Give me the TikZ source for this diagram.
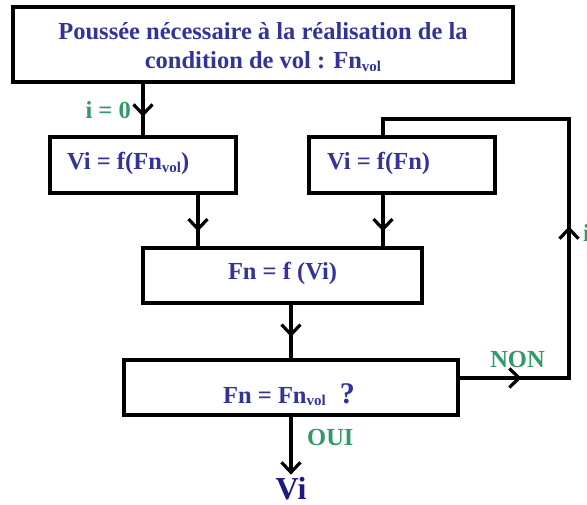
\documentclass[tikz,border=0pt]{standalone}
\usepackage{fontspec}
\setmainfont{Liberation Serif}
\usetikzlibrary{arrows.meta,decorations.markings}
\definecolor{tblue}{RGB}{51,51,153}
\definecolor{tgreen}{RGB}{51,153,102}
\definecolor{vblue}{RGB}{26,26,128}
\newcommand{\subvol}[1]{\raisebox{-0.12em}{\fontsize{15}{15}\selectfont #1}}
\tikzset{
  box/.style={draw=black, line width=3.2pt, inner sep=0pt, fill=white},
  txt/.style={text=tblue, font=\fontsize{24.5}{29}\selectfont\bfseries, inner sep=0pt},
  lbl/.style={text=tgreen, font=\fontsize{24.5}{29}\selectfont\bfseries, inner sep=0pt},
  conn/.style={line width=3.2pt, draw=black},
  barb/.tip={Straight Barb[length=10pt,width=19pt,line width=3.2pt]},
  midarrow/.style={decoration={markings, mark=at position #1 with {\arrow{barb}}}, postaction={decorate}}
}
\begin{document}
\begin{tikzpicture}[x=1pt,y=-1pt]
\useasboundingbox (0,0) rectangle (587,505);
% boxes
\node[box, minimum width=500pt, minimum height=75pt] (top) at (263,44.5) {};
\node[box, minimum width=186pt, minimum height=56pt] (b1) at (143,165) {};
\node[box, minimum width=186pt, minimum height=56pt] (b2) at (402,165) {};
\node[box, minimum width=279pt, minimum height=55pt] (fn) at (282.5,275.5) {};
\node[box, minimum width=334pt, minimum height=55pt] (q) at (291,387.5) {};
% texts
\node[txt, anchor=base] (t1) at (263,40) {Poussée nécessaire à la réalisation de la};
\node[txt, anchor=base] (t2) at (263,69) {condition de vol : Fn\subvol{vol}};
\node[txt, anchor=base west] (t3) at (67,170) {Vi = f(Fn\subvol{vol})};
\node[txt, anchor=base west] (t4) at (327,170) {Vi = f(Fn)};
\node[txt, anchor=base] (t5) at (282.5,280) {Fn = f (Vi)};
\node[txt, anchor=base west] (t6) at (223,403) {Fn = Fn\subvol{vol}\hspace{14pt}{\fontsize{30}{30}\selectfont ?}};
\node[text=vblue, font=\fontsize{32}{32}\selectfont\bfseries, inner sep=0pt, anchor=base] (vi) at (291,499) {Vi};
% labels
\node[lbl, anchor=base east] (l0) at (131,119) {i = 0};
\node[lbl, anchor=base] (lnon) at (517.5,367) {NON};
\node[lbl, anchor=base west] (loui) at (307,446) {OUI};
\node[lbl, anchor=base west] (li) at (583,242) {i};
% connectors
\coordinate (c1) at (143,82);
\draw[conn, midarrow=0.64] (top.south -| c1) -- (b1.north);
\draw[conn, midarrow=0.71] (b1.south -| 198,0) -- (fn.north -| 198,0);
\draw[conn, midarrow=0.71] (b2.south -| 383,0) -- (fn.north -| 383,0);
\draw[conn, midarrow=0.6] (fn.south -| q.north) -- (q.north);
\coordinate (r1) at (569,378);
\coordinate (r2) at (569,119);
\coordinate (r3) at (383,119);
\draw[conn, line join=miter, decoration={markings, mark=at position 62pt with {\arrow{barb}}, mark=at position 261pt with {\arrow{barb}}}, postaction={decorate}]
  (q.east |- r1) -- (r1) -- (r2) -- (r3) -- (b2.north -| r3);
\draw[conn, -{barb}, shorten >=2pt] (q.south) -- (vi.north);
\end{tikzpicture}
\end{document}
